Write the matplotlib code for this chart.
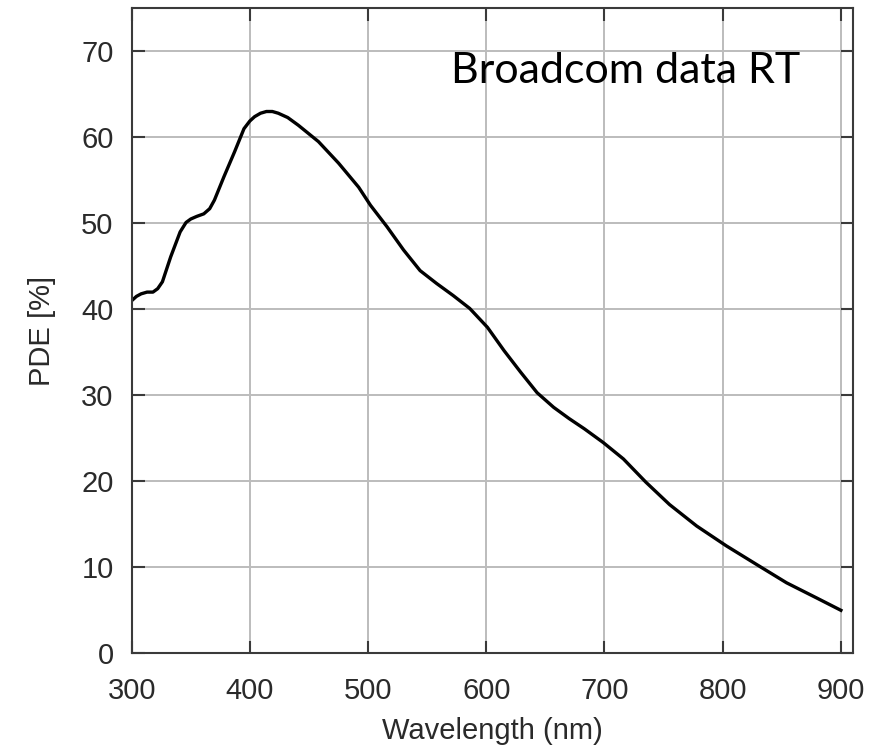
import numpy as np
import matplotlib.pyplot as plt

# PDE curve (wavelength in nm, PDE in %)
wavelength = [300, 304, 308, 313, 318, 322, 326, 333, 341, 346, 350, 355, 361, 366, 370, 378,
              387, 395, 400, 404, 409, 414, 419, 424, 432, 441, 458, 475, 492, 502, 516, 530,
              544, 558, 572, 586, 601, 615, 629, 643, 657, 670, 683, 699, 716, 735, 755, 778,
              803, 829, 854, 880, 900]
pde = [41.0, 41.5, 41.8, 42.0, 42.0, 42.4, 43.2, 46.1, 49.0, 50.1, 50.5, 50.8, 51.1, 51.7, 52.7,
       55.4, 58.3, 61.0, 61.9, 62.4, 62.8, 63.0, 63.0, 62.8, 62.3, 61.4, 59.5, 57.0, 54.2, 52.1,
       49.6, 46.9, 44.5, 43.0, 41.6, 40.1, 37.9, 35.2, 32.7, 30.3, 28.6, 27.3, 26.1, 24.5, 22.6,
       19.9, 17.3, 14.8, 12.5, 10.3, 8.2, 6.4, 5.0]

x_ticks = [300, 400, 500, 600, 700, 800, 900]
y_ticks = [0, 10, 20, 30, 40, 50, 60, 70]

plt.rcParams['font.family'] = ['Liberation Sans', 'DejaVu Sans']

fig = plt.figure(figsize=(8.82, 7.55), dpi=100)
ax = fig.add_axes([0.1493, 0.1347, 0.8175, 0.8543])

ax.plot(wavelength, pde, color='black', linewidth=2.4, solid_joinstyle='round')

ax.set_xlim(300, 910)
ax.set_ylim(0, 75)
ax.set_xticks(x_ticks)
ax.set_yticks(y_ticks)

# grid and frame
ax.grid(True, color='#bcbcbc', linewidth=1.4)
ax.set_axisbelow(True)
for s in ax.spines.values():
    s.set_color('#3a3a3a')
    s.set_linewidth(1.5)

ax.tick_params(direction='in', length=9, width=1.5, color='#3a3a3a',
               top=True, right=True, labelsize=21, labelcolor='#2a2a2a')
ax.tick_params(axis='x', pad=17)
ax.tick_params(axis='y', pad=13)

ax.set_xlabel('Wavelength (nm)', fontsize=21, color='#2a2a2a', labelpad=9)
ax.set_ylabel('PDE [%]', fontsize=21, color='#2a2a2a', labelpad=18)

ax.text(570, 66.3, 'Broadcom data RT', fontsize=31, family=['Lato', 'DejaVu Sans'],
        color='black', va='baseline', ha='left')

plt.savefig('out.png', dpi=100)
